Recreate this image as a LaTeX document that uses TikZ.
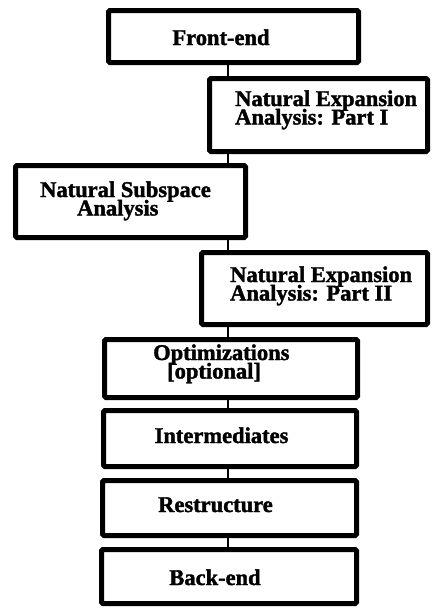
\documentclass[tikz,border=0pt]{standalone}
\usepackage{fontspec}
\setmainfont{Liberation Serif}[BoldFeatures={FakeBold=1.6}]
\newcommand{\twoline}[2]{\vtop{\baselineskip=18.5pt\lineskiplimit=-\maxdimen\hbox{#1}\hbox{#2}}}
\begin{document}
\begin{tikzpicture}[x=1pt,y=-1pt,
  stage/.style={draw=black,line width=5pt,rounded corners=1.5pt,inner sep=0pt,fill=white},
  label text/.style={inner sep=0pt,font=\fontsize{22.5}{18.5}\selectfont\bfseries},
  link/.style={draw=black,line width=2.5pt}]
\useasboundingbox (0,0) rectangle (432,608);

% pipeline stages (outer frames)
\node[stage,minimum width=250pt,minimum height=52pt] (fe)    at (233.5,36.5) {};
\node[stage,minimum width=218pt,minimum height=73pt] (nea1)  at (318.5,115)  {};
\node[stage,minimum width=230pt,minimum height=72pt] (nsa)   at (130.5,201.5){};
\node[stage,minimum width=226pt,minimum height=72pt] (nea2)  at (314.5,288.5){};
\node[stage,minimum width=253pt,minimum height=58pt] (opt)   at (231,368.5)  {};
\node[stage,minimum width=253pt,minimum height=56pt] (inter) at (230,438.5)  {};
\node[stage,minimum width=254pt,minimum height=55pt] (restr) at (229.5,508)  {};
\node[stage,minimum width=255pt,minimum height=54pt] (be)    at (229,576.5)  {};

% stage labels
\node[label text,anchor=base]      (fe-t)    at (221,45)   {Front-end};
\node[label text,anchor=base west] (nea1-t)  at (235,106)  {\twoline{Natural Expansion}{Analysis: Part I}};
\node[label text,anchor=base west] (nsa-t)   at (40,197)   {\twoline{Natural Subspace}{\hspace*{37pt}Analysis}};
\node[label text,anchor=base west] (nea2-t)  at (230,282)  {\twoline{Natural Expansion}{Analysis: Part II}};
\node[label text,anchor=base west] (opt-t)   at (153,360)  {\twoline{Optimizations}{\hspace*{14pt}[optional]}};
\node[label text,anchor=base]      (inter-t) at (221.5,443){Intermediates};
\node[label text,anchor=base]      (restr-t) at (215.5,512){Restructure};
\node[label text,anchor=base]      (be-t)    at (215,585)  {Back-end};

% vertical spine joining consecutive stages
\coordinate (spine) at (228,0);
\foreach \a/\b in {fe/nea1,nea1/nsa,nsa/nea2,nea2/opt,opt/inter,inter/restr,restr/be}
  \draw[link] (\a.south -| spine) -- (\b.north -| spine);
\end{tikzpicture}
\end{document}
